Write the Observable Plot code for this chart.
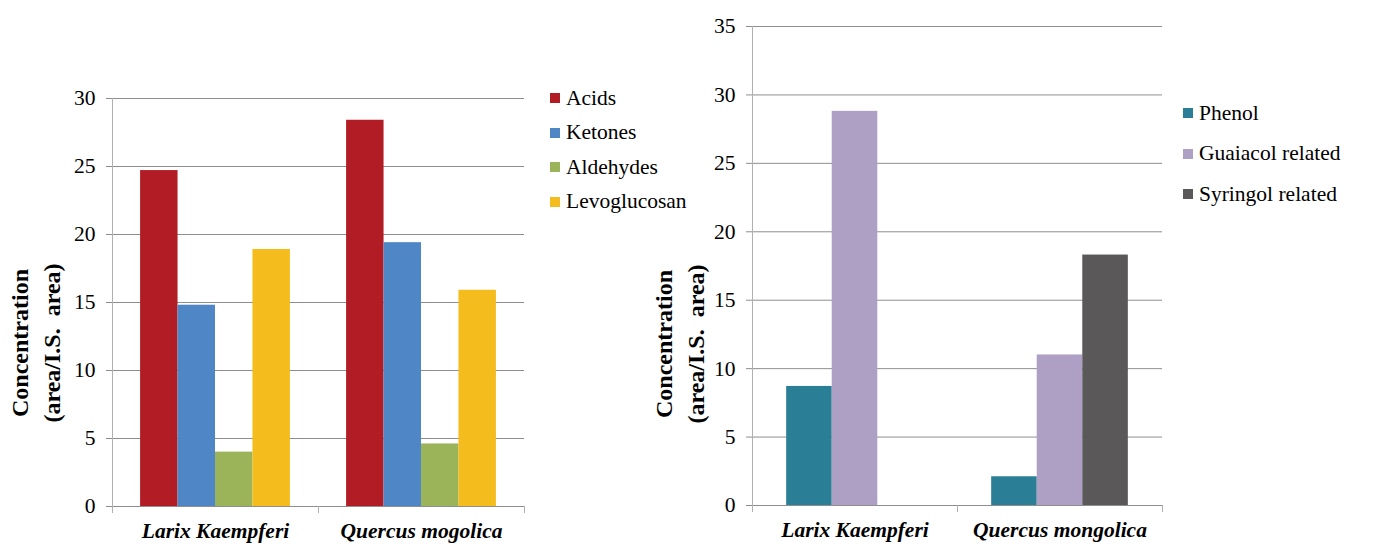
<!DOCTYPE html>
<html><head><meta charset="utf-8">
<script src="https://cdn.jsdelivr.net/npm/d3@7"></script>
<script src="https://cdn.jsdelivr.net/npm/@observablehq/plot@0.6"></script>
<style>
body{margin:0;background:#fff;}
#root{position:relative;width:1378px;height:554px;overflow:hidden;font-family:"Liberation Serif","Times New Roman",serif;color:#000;background:#fff;}
.chart{position:absolute;top:0;}
.legend{position:absolute;font-size:21.5px;font-family:"Liberation Serif","Times New Roman",serif;}
.row{display:flex;align-items:center;white-space:nowrap;}
.sw{width:10px;height:10px;margin-right:6px;flex:none;}
.ytitle{position:absolute;width:260px;height:64px;line-height:32px;text-align:center;font-weight:bold;font-size:24px;transform:rotate(-90deg);white-space:pre;font-family:"Liberation Serif","Times New Roman",serif;}
svg [aria-label^="fx-axis"] text{font-weight:bold;font-style:italic;}
svg [aria-label^="y-axis"] line, svg [aria-label^="y-axis"] path{stroke:#8e8e8e;}
</style></head>
<body><div id="root"></div>
<script>
// ---- Left chart data ----
const categoriesLeft = ["Larix Kaempferi", "Quercus mogolica"];
const seriesLeft = ["Acids", "Ketones", "Aldehydes", "Levoglucosan"];
const acids = [24.7, 28.4];
const ketones = [14.8, 19.4];
const aldehydes = [4.0, 4.6];
const levoglucosan = [18.9, 15.9];
const colorsLeft = ["#b21c24", "#4f86c6", "#9bb45a", "#f4bc1c"];
const yTicksLeft = [0, 5, 10, 15, 20, 25, 30];

// ---- Right chart data ----
const categoriesRight = ["Larix Kaempferi", "Quercus mongolica"];
const seriesRight = ["Phenol", "Guaiacol related", "Syringol related"];
const phenol = [8.7, 2.1];
const guaiacol = [28.8, 11.0];
const syringol = [0, 18.3];
const colorsRight = ["#2a7f96", "#ae9fc4", "#5a5859"];
const yTicksRight = [0, 5, 10, 15, 20, 25, 30, 35];

const yTitle = "Concentration\n(area/I.S.  area)";

const root = document.getElementById("root");

function makeChart(cfg) {
  const data = [];
  cfg.cats.forEach((c, i) => cfg.series.forEach((s, j) => data.push({cat: c, series: s, value: cfg.values[j][i]})));
  const ymax = cfg.ticks[cfg.ticks.length - 1];
  const chart = Plot.plot({
    width: cfg.width, height: cfg.height,
    marginTop: cfg.mt, marginBottom: cfg.mb, marginLeft: cfg.ml, marginRight: cfg.mr,
    style: {fontFamily: '"Liberation Serif", "Times New Roman", serif', fontSize: "21.5px", color: "#000", background: "transparent", overflow: "visible"},
    facet: {data, x: "cat"},
    fx: {domain: cfg.cats, padding: 0, axis: "bottom", label: null, tickSize: 0, tickPadding: 16, round: false},
    x: {domain: cfg.series, axis: null, paddingInner: 0, paddingOuter: 0.75, round: false},
    y: {domain: [0, ymax], ticks: cfg.ticks, tickSize: 6, tickPadding: 11, label: null},
    color: {domain: cfg.series, range: cfg.colors},
    marks: [
      Plot.ruleY(cfg.ticks.slice(1), {stroke: "#8e8e8e", strokeWidth: 1}),
      Plot.barY(data, {x: "series", y: "value", fill: "series"}),
      Plot.ruleY([0], {stroke: "#8e8e8e", strokeWidth: 1})
    ]
  });
  // axis line and category boundary tick marks from the library's scales
  const fx = chart.scale("fx"), ys = chart.scale("y");
  const r0 = fx.range[0], r1 = fx.range[1];
  const n = fx.domain.length, step = (r1 - r0) / n;
  const yb = ys.apply ? ys.apply(0) : ys.range[0];
  const yt = ys.apply ? ys.apply(ymax) : ys.range[1];
  const g = d3.select(chart).append("g").attr("stroke", "#b0b0b0").attr("stroke-width", 1);
  g.append("line").attr("x1", r0 + 0.5).attr("x2", r0 + 0.5).attr("y1", yt).attr("y2", yb);
  for (let i = 0; i <= n; i++) {
    const x = Math.round(r0 + i * step) + 0.5;
    g.append("line").attr("x1", x).attr("x2", x).attr("y1", yb).attr("y2", yb + 7);
  }
  chart.classList.add("chart");
  chart.style.left = cfg.left + "px";
  root.appendChild(chart);
}

makeChart({cats: categoriesLeft, series: seriesLeft, values: [acids, ketones, aldehydes, levoglucosan],
  colors: colorsLeft, ticks: yTicksLeft, width: 540, height: 554, mt: 98, mb: 48, ml: 112, mr: 16, left: 0});
makeChart({cats: categoriesRight, series: seriesRight, values: [phenol, guaiacol, syringol],
  colors: colorsRight, ticks: yTicksRight, width: 540, height: 554, mt: 26, mb: 49, ml: 112, mr: 18, left: 640});

function addLegend(series, colors, left, top, rowH) {
  const div = document.createElement("div");
  div.className = "legend";
  div.style.left = left + "px";
  div.style.top = top + "px";
  series.forEach((s, i) => {
    const row = document.createElement("div");
    row.className = "row";
    row.style.height = rowH + "px";
    const sw = document.createElement("span");
    sw.className = "sw";
    sw.style.background = colors[i];
    const t = document.createElement("span");
    t.textContent = s;
    row.appendChild(sw); row.appendChild(t);
    div.appendChild(row);
  });
  root.appendChild(div);
}
addLegend(seriesLeft, colorsLeft, 550, 81, 34.5);
addLegend(seriesRight, colorsRight, 1183, 93, 40.5);

function addTitle(cx, cy) {
  const d = document.createElement("div");
  d.className = "ytitle";
  d.textContent = yTitle;
  d.style.left = (cx - 130) + "px";
  d.style.top = (cy - 32) + "px";
  root.appendChild(d);
}
addTitle(36, 343);
addTitle(680, 344);
</script>
</body></html>
